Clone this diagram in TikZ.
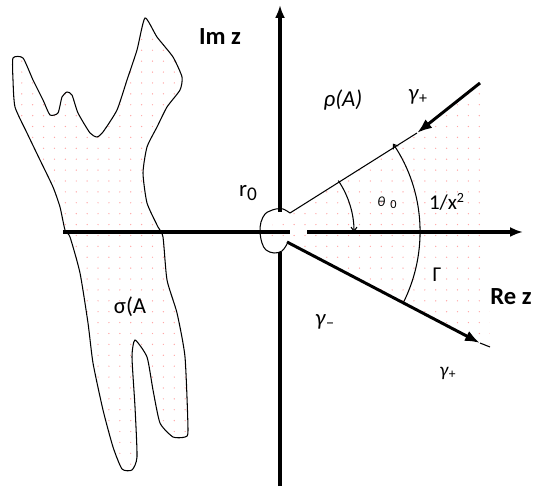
\documentclass[tikz,border=0pt]{standalone}
\usepackage{fontspec}
\setmainfont{Carlito}
\usetikzlibrary{arrows.meta,patterns.meta}
\tikzset{
  axl/.style    = {line width=1.9pt},
  ax/.style     = {axl, -{Latex[length=2.6mm, width=2mm]}},
  ar/.style     = {line width=1.7pt, -{Latex[length=3mm, width=2.2mm]}},
  thinline/.style = {line width=0.6pt},
  ang/.style    = {thinline, -{Straight Barb[length=0.8mm, width=1.2mm]}},
  speck/.style  = {pattern={Dots[distance=6.2pt, radius=0.4pt]}, pattern color=red!35},
  lbl/.style    = {inner sep=0pt, font=\fontsize{13}{15}\selectfont},
  axname/.style = {inner sep=0pt, font=\fontsize{14}{16}\selectfont\bfseries},
}
\begin{document}
\begin{tikzpicture}[x=0.02cm, y=0.02cm]
  \useasboundingbox (0,0) rectangle (533,486);

  \coordinate (O)  at (280,254);
  \coordinate (C)  at (262,254);
  \coordinate (xl) at (63,254);
  \coordinate (xg) at (290,254);
  \coordinate (xs) at (307,254);
  \coordinate (xr) at (523,254);
  \coordinate (yb) at (280,0);
  \coordinate (yg) at (280,234);
  \coordinate (ys) at (280,274);
  \coordinate (yt) at (280,481);
  \coordinate (u0) at (290,273);
  \coordinate (u1) at (417,353);
  \coordinate (u2) at (480,403);
  \coordinate (l0) at (287,244);
  \coordinate (l1) at (480,143);
  \coordinate (l2) at (490,139);

  % spectrum
  \draw[speck, thinline] plot[smooth cycle, tension=0.35] coordinates {
    (13,428) (23,428) (33,406) (43,386) (50,371) (58,373) (62,389) (67,394)
    (72,391) (78,373) (90,353) (97,349) (103,354) (117,376) (127,406)
    (137,436) (145,468) (157,449) (173,429) (182,409) (180,396) (167,379)
    (157,359) (147,339) (143,313) (147,283) (158,259) (163,249) (167,206)
    (177,173) (185,129) (188,56) (185,49) (173,49) (160,63) (153,96)
    (147,129) (135,146) (132,129) (135,79) (137,29) (132,16) (122,17)
    (113,39) (103,76) (93,123) (88,163) (80,213) (70,249) (65,256) (60,279)
    (53,299) (40,326) (27,353) (15,379) (13,406)};

  % sector
  \fill[speck] (C) -- (u0) -- (u1) -- (u2) -- (487,398) -- (l2) -- (l1) -- (l0) -- cycle;

  % contour round the origin
  \draw[thinline] plot[smooth, tension=0.6] coordinates {
    (290,273) (283,277) (276,277) (270,275) (265,272) (261,264) (260,254)
    (262,243) (266,236) (274,233) (282,235) (287,242)};

  \draw[axl] (xl) -- (xg);
  \draw[ax]  (xs) -- (xr);
  \draw[axl] (yb) -- (yg);
  \draw[ax]  (ys) -- (yt);

  \draw[ar] (u2) -- (u1);
  \draw[thinline] (u1) -- (u0);
  \draw[ar] (l0) -- (l1);
  \draw[thinline] (l1) -- (l2);

  \draw[ang] (C) ++(34:92) arc[start angle=34, end angle=0, radius=92];
  \draw[ang] (C) ++(-27:158) arc[start angle=-27, end angle=34, radius=158];

  \node[axname] (imz) at (220,449) {Im z};
  \node[axname] (rez) at (511,189) {Re z};
  \node[lbl] (rho)  at (343,386) {\textit{ρ(A)}};
  \node[lbl] (sig)  at (130,179) {σ(A};
  \node[lbl] (r0)   at (248,293) {r\raisebox{-0.3ex}{\fontsize{11}{13}\selectfont 0}};
  \node[lbl, font=\fontsize{12}{14}\selectfont] (inv) at (447,284) {1/x\textsuperscript{2}};
  \node[lbl, font=\fontsize{8}{9}\selectfont] (th) at (387,283)
       {\textit{θ}\hspace{3pt}\raisebox{-1pt}{\fontsize{7}{8}\selectfont 0}};
  \node[lbl, font=\fontsize{12}{14}\selectfont] (Gam) at (437,211) {Γ};
  \node[lbl] (gpu) at (418,389) {\textit{γ}\textsubscript{+}};
  \node[lbl] (gm)  at (325,164) {\textit{γ}\textsubscript{−}};
  \node[lbl, font=\fontsize{11}{13}\selectfont] (gpl) at (448,113) {\textit{γ}\textsubscript{+}};
\end{tikzpicture}
\end{document}
